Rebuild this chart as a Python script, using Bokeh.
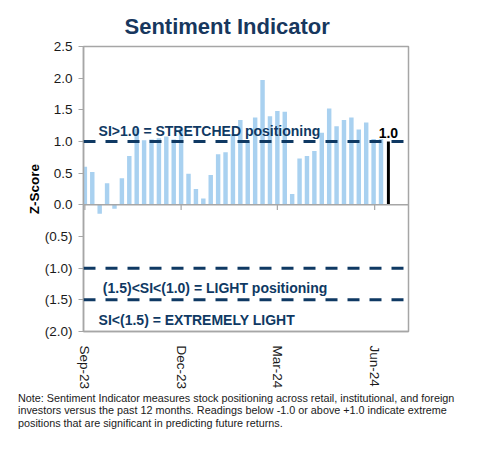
import pandas as pd
from bokeh.plotting import figure
from bokeh.models import (Range1d, Span, Label, FixedTicker, DatetimeTickFormatter,
                          CustomJSTickFormatter, Div, ColumnDataSource)
from bokeh.layouts import column
from bokeh.embed import file_html
from bokeh.resources import INLINE

# ---------------- data ----------------
start_date = "2023-09-01"
n_weeks = 42
values = [0.60, 0.52, -0.14, 0.34, -0.06, 0.42, 0.77, 1.20, 1.02, 1.03,
          1.05, 1.08, 1.03, 1.20, 0.49, 0.25, 0.10, 0.47, 0.80, 0.83,
          1.12, 1.34, 1.00, 1.38, 1.97, 1.40, 1.48, 1.47, 0.17, 0.73,
          0.77, 0.85, 1.14, 1.52, 1.24, 1.34, 1.38, 1.19, 1.30, 1.04,
          1.04, 1.00]
tick_dates = ["2023-09-01", "2023-12-01", "2024-03-01", "2024-06-01"]
y_ticks = [2.5, 2.0, 1.5, 1.0, 0.5, 0.0, -0.5, -1.0, -1.5, -2.0]
thresholds = [1.0, -1.0, -1.5]
zone_labels = ["SI>1.0 = STRETCHED positioning",
               "(1.5)<SI<(1.0) = LIGHT positioning",
               "SI<(1.5) = EXTREMELY LIGHT"]
zone_label_x = ["2023-09-14", "2023-09-18", "2023-09-14"]
zone_label_y = [1.17, -1.31, -1.82]
last_label = "1.0"
title_text = "Sentiment Indicator"
note_lines = ["Note: Sentiment Indicator measures stock positioning across retail, institutional, and foreign",
              "investors versus the past 12 months. Readings below -1.0 or above +1.0 indicate extreme",
              "positions that are significant in predicting future returns."]

# ---------------- build ----------------
dates = pd.date_range(start_date, periods=n_weeks, freq="7D")
hist = ColumnDataSource(dict(x=dates[:-1], top=values[:-1]))
last = ColumnDataSource(dict(x=dates[-1:], top=values[-1:]))

NAVY = "#0F3963"
GRAY = "#A6A6A6"
FONT = "Liberation Sans"

p = figure(width=462, height=392, output_backend="svg", toolbar_location=None,
           x_axis_type="datetime",
           x_range=Range1d(dates[0] - pd.Timedelta(days=1.3), dates[0] + pd.Timedelta(days=306)),
           y_range=Range1d(-2.0, 2.5),
           min_border_left=83, min_border_right=54, min_border_top=46, min_border_bottom=61)

p.title.text = title_text
p.title.text_font = FONT
p.title.text_font_size = "22px"
p.title.text_font_style = "bold"
p.title.text_color = "#17375E"
p.title.align = "left"
p.title.offset = 41
p.title.standoff = 16

p.outline_line_color = GRAY
p.outline_line_width = 1.5
p.grid.visible = False
p.background_fill_color = "white"
p.border_fill_color = "white"

# bars
p.vbar(x="x", top="top", bottom=0, width=pd.Timedelta(days=4.2).total_seconds() * 1000,
       source=hist, fill_color="#A9D1F0", line_color=None)

# zero line
p.add_layout(Span(location=0, dimension="width", line_color=GRAY, line_width=1.5))
tick_ts = pd.to_datetime(tick_dates)
p.segment(x0=tick_ts, x1=tick_ts, y0=0, y1=-0.08, line_color=GRAY, line_width=1.2)

# threshold lines
for t in thresholds:
    p.add_layout(Span(location=t, dimension="width", line_color=NAVY, line_width=3,
                      line_dash="12 10"))

# latest value
p.vbar(x="x", top="top", bottom=0, width=pd.Timedelta(days=2.8).total_seconds() * 1000,
       source=last, fill_color="black", line_color=None)
p.add_layout(Label(x=dates[-1], y=values[-1], text=last_label, text_align="center",
                   text_baseline="alphabetic", y_offset=9, text_font=FONT,
                   text_font_size="14px", text_font_style="bold", text_color="black"))

for txt, lx, ly in zip(zone_labels, zone_label_x, zone_label_y):
    p.add_layout(Label(x=pd.Timestamp(lx), y=ly, text=txt, text_baseline="alphabetic",
                       text_font=FONT, text_font_size="14px", text_font_style="bold",
                       text_color=NAVY))

# axes
p.yaxis.ticker = FixedTicker(ticks=y_ticks)
p.yaxis.formatter = CustomJSTickFormatter(
    code="return tick < 0 ? '(' + (-tick).toFixed(1) + ')' : tick.toFixed(1);")
p.yaxis.axis_label = "Z-Score"
p.yaxis.axis_label_text_font = FONT
p.yaxis.axis_label_text_font_style = "bold"
p.yaxis.axis_label_text_font_size = "13.5px"
p.yaxis.axis_label_text_color = "black"
p.yaxis.axis_label_standoff = 0
p.yaxis.major_label_text_font = FONT
p.yaxis.major_label_text_font_size = "13.5px"
p.yaxis.major_label_text_color = "#1a1a1a"
p.yaxis.major_label_standoff = 6
p.yaxis.axis_line_color = GRAY
p.yaxis.axis_line_width = 1.5
p.yaxis.major_tick_line_color = GRAY
p.yaxis.major_tick_out = 5
p.yaxis.major_tick_in = 0
p.yaxis.minor_tick_line_color = None

p.xaxis.ticker = FixedTicker(ticks=[t.value // 10**6 for t in tick_ts])
fmt = "%b-%y"
p.xaxis.formatter = DatetimeTickFormatter(milliseconds=fmt, seconds=fmt, minsec=fmt, minutes=fmt,
                                          hourmin=fmt, hours=fmt, days=fmt, months=fmt, years=fmt)
p.xaxis.major_label_orientation = "vertical"
p.xaxis.major_label_text_font = FONT
p.xaxis.major_label_text_font_size = "13.5px"
p.xaxis.major_label_text_color = "#1a1a1a"
p.xaxis.major_label_standoff = 8
p.xaxis.axis_line_color = GRAY
p.xaxis.axis_line_width = 1.5
p.xaxis.major_tick_line_color = None
p.xaxis.minor_tick_line_color = None

note = Div(text="<br>".join(note_lines), width=462, height=52, margin=(0, 0, 0, 0),
           styles={"font-family": "'Liberation Sans', Arial, sans-serif", "font-size": "10.8px",
                   "line-height": "12.3px", "color": "#1a1a1a", "padding-left": "18px",
                   "padding-top": "0px", "white-space": "nowrap"})

layout = column(p, note, spacing=0)
open("out.html", "w").write(file_html(layout, INLINE))
